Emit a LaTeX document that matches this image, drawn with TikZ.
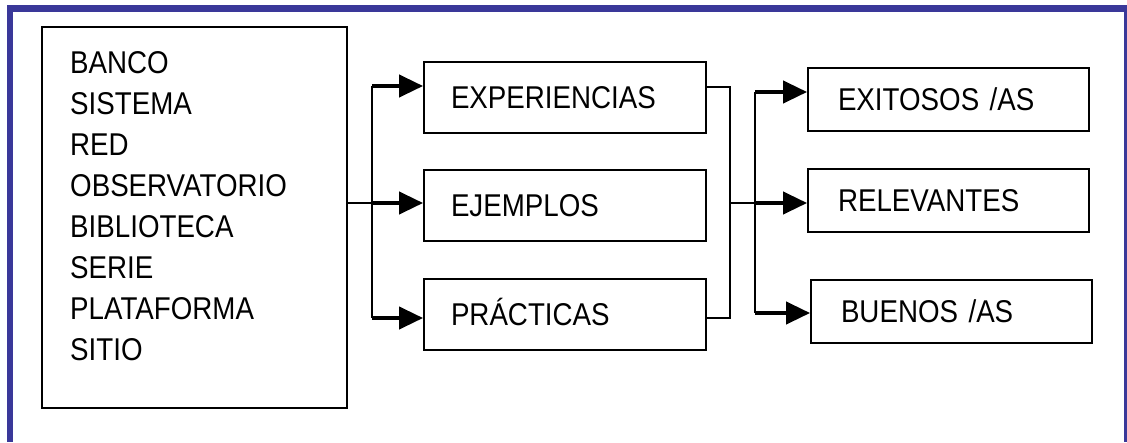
\documentclass[tikz,border=0pt]{standalone}
\usepackage{fontspec}
\setmainfont{Liberation Sans}[FakeStretch=0.88]
\usetikzlibrary{calc}
\usetikzlibrary{arrows.meta}
\usetikzlibrary{positioning}
\definecolor{marco}{RGB}{58,56,153}

\begin{document}
\begin{tikzpicture}[x=1pt,y=-1pt,
  caja/.style={draw,line width=1.8pt,rectangle,inner sep=0pt},
  texto/.style={font=\fontsize{31.5}{41}\selectfont},
  mediana/.style={caja,texto,text width=228pt,inner xsep=27pt,minimum height=71pt,align=left,text height=22.5pt,text depth=0pt},
  derecha/.style={caja,texto,text width=221pt,inner xsep=30pt,minimum height=63pt,align=left,text height=22.5pt,text depth=0pt},
  fino/.style={line width=2pt},
  flecha/.style={line width=4pt,-{Triangle[length=24pt,width=22pt]}}]

\useasboundingbox (0,0) rectangle (1127,442);

%%%%%%%%%%%%%%%%%%%%%%%%
%Fondo y marco azul
%%%%%%%%%%%%%%%%%%%%%%%%
\fill[white] (0,0) rectangle (1127,442);
\fill[marco] (7,5) rectangle (1127,12);
\fill[marco] (7,5) rectangle (13,442);
\fill[marco] (1124,5) rectangle (1126.5,442);

%%%%%%%%%%%%%%%%%%%%%%%%
%Caja de la izquierda
%%%%%%%%%%%%%%%%%%%%%%%%
\node[caja,minimum width=305pt,minimum height=381pt] (origen) at (194.5,217.5) {};
\node[texto,anchor=north west,align=left,inner sep=0pt] (tipos) at (70,51)
  {BANCO\\SISTEMA\\RED\\OBSERVATORIO\\BIBLIOTECA\\SERIE\\PLATAFORMA\\SITIO};

%%%%%%%%%%%%%%%%%%%%%%%%
%Cajas del centro
%%%%%%%%%%%%%%%%%%%%%%%%
\node[mediana] (exper) at (565,97.5) {EXPERIENCIAS};
\node[mediana] (ejem) at (565,205.5) {EJEMPLOS};
\node[mediana] (prac) at (565,314.5) {PRÁCTICAS};

%%%%%%%%%%%%%%%%%%%%%%%%
%Cajas de la derecha
%%%%%%%%%%%%%%%%%%%%%%%%
\node[derecha] (exit) at (948.5,99.5) {EXITOSOS /AS};
\node[derecha] (relev) at (948.5,200.5) {RELEVANTES};
\node[derecha] (buen) at (951.5,311.5) {BUENOS /AS};

%%%%%%%%%%%%%%%%%%%%%%%%
%Conectores
%%%%%%%%%%%%%%%%%%%%%%%%
% flechas hacia el centro
\foreach \caja/\nivel [count=\i] in {exper/86,ejem/203,prac/318}{
  \coordinate (izq\i) at (372,\nivel);
  \draw[flecha] (izq\i) -- (izq\i -| \caja.west);
}
\draw[fino] (izq1) -- (izq3);
\draw[fino] (origen.east |- izq2) -- (izq2);

% union de las cajas del centro
\coordinate (codo1) at (730,87);
\coordinate (codo2) at (730,318);
\coordinate (union) at (730,203);
\draw[fino] (exper.east |- codo1) -- (codo1) -- (codo2) -- (prac.east |- codo2);

% flechas hacia la derecha
\foreach \caja/\nivel [count=\i] in {exit/92,relev/203,buen/313}{
  \coordinate (der\i) at (755,\nivel);
  \draw[flecha] (der\i) -- (der\i -| \caja.west);
}
\draw[fino] (der1) -- (der3);
\draw[fino] (union) -- (der2);

\end{tikzpicture}
\end{document}
